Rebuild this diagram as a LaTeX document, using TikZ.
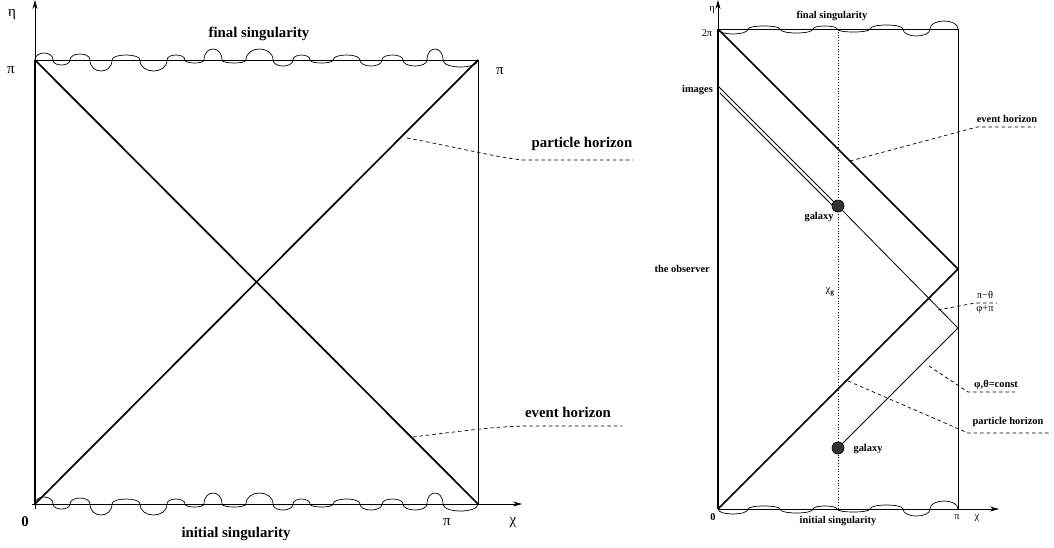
\documentclass[tikz,border=0pt]{standalone}
\usepackage{fontspec}
\setmainfont{Liberation Serif}
\usetikzlibrary{arrows.meta}
\newcommand\lobe[3]{.. controls (#1,{1.333*(#3)}) and (#2,{1.333*(#3)}) .. (#2,0)}
\newcommand\wavyleft{(35,0) \lobe{35}{53}{-7} \lobe{53}{70}{5} \lobe{70}{90}{-6} \lobe{90}{112}{11} \lobe{112}{140}{-5} \lobe{140}{167}{11} \lobe{167}{185}{-5} \lobe{185}{204}{3} \lobe{204}{222}{-11} \lobe{222}{246}{3} \lobe{246}{273}{-11} \lobe{273}{293}{6} \lobe{293}{310}{-5} \lobe{310}{333}{3} \lobe{333}{360}{-5} \lobe{360}{382}{6} \lobe{382}{403}{-5} \lobe{403}{427}{6} \lobe{427}{443}{-11} \lobe{443}{478}{7}}
\newcommand\wavyright{(718,0) \lobe{718}{748}{5} \lobe{748}{780}{-3} \lobe{780}{813}{4} \lobe{813}{837}{-3} \lobe{837}{870}{3} \lobe{870}{903}{-4} \lobe{903}{930}{7} \lobe{930}{958}{-8}}
\begin{document}
\begin{tikzpicture}[x=1pt,y=-1pt,
  thinline/.style={line width=0.8pt},
  thickline/.style={line width=1.7pt},
  leader/.style={line width=0.7pt, dash pattern=on 3.5pt off 3pt},
  axisline/.style={line width=0.9pt,-{Stealth[length=9pt,width=5pt]}},
  wavy/.style={line width=0.7pt},
  big/.style={font=\fontsize{14.8}{17}\selectfont\bfseries, inner sep=0pt},
  bigsym/.style={font=\fontsize{15}{17}\selectfont, inner sep=0pt},
  small/.style={font=\fontsize{10.4}{12}\selectfont\bfseries, inner sep=0pt},
  smallsym/.style={font=\fontsize{10.4}{12}\selectfont, inner sep=0pt},
  galaxydot/.style={circle, fill=black!80, draw=black, line width=0.5pt, minimum size=12pt, inner sep=0pt}]
\useasboundingbox (0,0) rectangle (1054,547);

% ---------------- left diagram ----------------
\coordinate (LO) at (35,504);
\coordinate (LT) at (35,60);
\coordinate (LR) at (478,504);
\coordinate (LTR) at (478,60);
\coordinate (LYs) at (35,509);
\coordinate (LYa) at (35,0);
\coordinate (LXs) at (32,504);
\coordinate (LXa) at (522,504);

\draw[axisline] (LYs) -- (LYa);
\draw[axisline] (LXs) -- (LXa);
\draw[thickline] (LO) -- (LT);
\draw[thinline] (LT) -- (LTR) -- (LR);
\draw[thickline] (LO) -- (LTR);
\draw[thickline] (LT) -- (LR);
\begin{scope}[shift={(0,60)}]
  \draw[wavy] \wavyleft;
\end{scope}
\begin{scope}[shift={(0,504)}]
  \draw[wavy] \wavyleft;
\end{scope}

\coordinate (phLs) at (407,138);
\coordinate (phLb) at (523,160);
\coordinate (phLe) at (633,160);
\draw[leader] (phLs) .. controls (460,148) and (500,158) .. (phLb) -- (phLe);
\coordinate (ehLs) at (413,437);
\coordinate (ehLb) at (530,426);
\coordinate (ehLe) at (622,426);
\draw[leader] (ehLs) .. controls (470,430) and (500,426) .. (ehLb) -- (ehLe);

\node[big] (fsL) at (259,34) {final singularity};
\node[big] (isL) at (236,534) {initial singularity};
\node[big] (phL) at (582,144) {particle horizon};
\node[big] (ehL) at (568,412) {event horizon};
\node[bigsym] (etaL) at (12,15) {η};
\node[bigsym] (piL1) at (11,70) {π};
\node[bigsym] (piL2) at (500,71) {π};
\node[bigsym] (piL3) at (447,522) {π};
\node[bigsym] (chiL) at (513,523) {χ};
\node[big] (zeroL) at (25,522) {0};

% ---------------- right diagram ----------------
\coordinate (RO) at (718,509);
\coordinate (RT) at (718,29);
\coordinate (RR) at (958,509);
\coordinate (RTR) at (958,29);
\coordinate (RM) at (958,269);
\coordinate (RYa) at (718,0);
\coordinate (RXa) at (999,509);
\coordinate (Dt) at (838,29);
\coordinate (Db) at (838,509);
\coordinate (P) at (958,328);
\coordinate (I1) at (718,86);
\coordinate (I2) at (720,93);
\coordinate (I2e) at (834,207);

\draw[dotted, line width=0.8pt] (Dt) -- (Db);
\draw[axisline] (RO) -- (RYa);
\draw[axisline] (RO) -- (RXa);
\draw[thickline] (RO) -- (RT);
\draw[thinline] (RT) -- (RTR) -- (RR);
\draw[thickline] (RT) -- (RM) -- (RO);
\begin{scope}[shift={(0,29)}]
  \draw[wavy] \wavyright;
\end{scope}
\begin{scope}[shift={(0,509)}]
  \draw[wavy] \wavyright;
\end{scope}

\node[galaxydot] (G1) at (838,206) {};
\node[galaxydot] (G2) at (838,448) {};
\draw[thinline] (G2.center) -- (P) -- (G1.center);
\draw[thinline] (I1) -- (G1.center);
\draw[thinline] (I2) -- (I2e);
\node[galaxydot] at (G1) {};
\node[galaxydot] at (G2) {};

% leaders
\coordinate (ehRs) at (850,161);
\coordinate (ehRb) at (977,127);
\coordinate (ehRe) at (1035,127);
\draw[leader] (ehRs) -- (ehRb) -- (ehRe);
\coordinate (ptRs) at (938,310);
\coordinate (ptRb) at (975,303);
\coordinate (ptRe) at (997,303);
\draw[leader] (ptRs) -- (ptRb) -- (ptRe);
\coordinate (cRs) at (929,366);
\coordinate (cRb) at (968,392);
\coordinate (cRe) at (1015,392);
\draw[leader] (cRs) -- (cRb) -- (cRe);
\coordinate (phRs) at (848,381);
\coordinate (phRb) at (968,433);
\coordinate (phRe) at (1052,433);
\draw[leader] (phRs) -- (phRb) -- (phRe);

\node[small] (fsR) at (832,16) {final singularity};
\node[small] (isR) at (838,521) {initial singularity};
\node[small] (ehR) at (1007,119) {event horizon};
\node[small] (phR) at (1008,422) {particle horizon};
\node[small] (constR) at (996,385) {φ,θ=const};
\node[smallsym] (ptR1) at (985,295) {π−θ};
\node[smallsym] (ptR2) at (985,310) {φ+π};
\node[small, anchor=east] (imR) at (713,90) {images};
\node[small, anchor=east] (obR) at (710,269) {the observer};
\node[small] (gal1) at (819,217) {galaxy};
\node[small] (gal2) at (868,449) {galaxy};
\node[smallsym] (chig) at (830,292) {χ\textsubscript{\bfseries g}};
\node[smallsym] (etaR) at (712,10) {η};
\node[smallsym] (twopi) at (707,33) {2π};
\node[small] (zeroR) at (713,517) {0};
\node[smallsym] (piR) at (957,517) {π};
\node[smallsym] (chiR) at (977,518) {χ};
\end{tikzpicture}
\end{document}
